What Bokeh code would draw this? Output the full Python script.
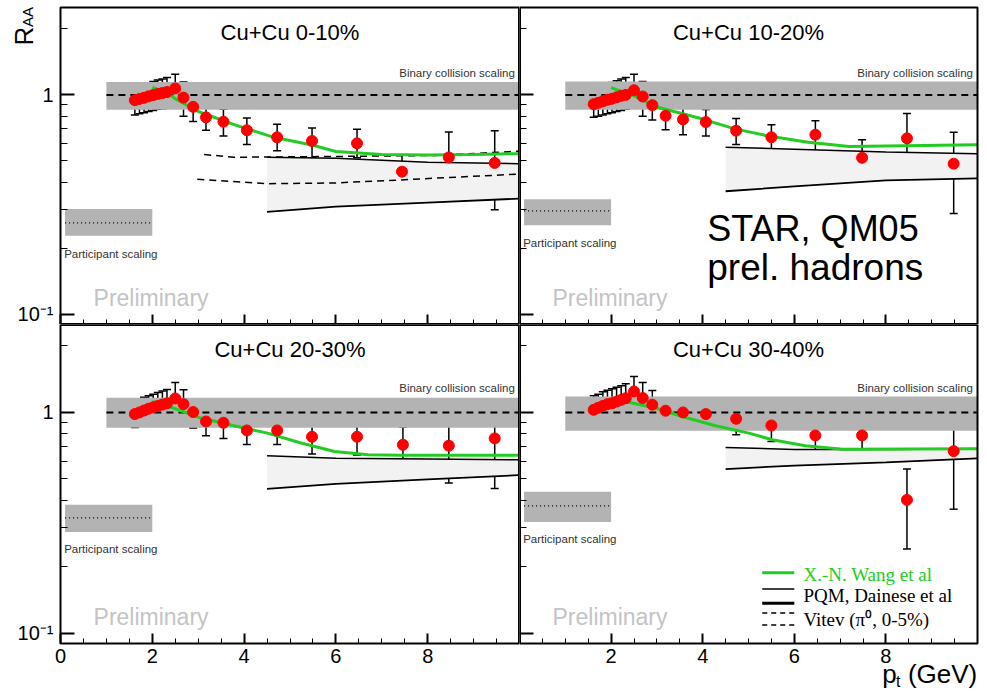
import math
from bokeh.plotting import figure
from bokeh.models import Range1d, FixedTicker, ColumnDataSource, Whisker, TeeHead, Label
from bokeh.layouts import gridplot
from bokeh.embed import file_html
from bokeh.resources import INLINE

# ---------------- data ----------------
titles = ["Cu+Cu 0-10%", "Cu+Cu 10-20%", "Cu+Cu 20-30%", "Cu+Cu 30-40%"]

pt_a = [1.62, 1.72, 1.82, 1.92, 2.02, 2.12, 2.22, 2.32, 2.50, 2.68, 2.89, 3.17, 3.55, 4.06, 4.72, 5.48, 6.46, 7.44, 8.46, 9.46]
raa_a = [0.946, 0.958, 0.97, 0.985, 0.998, 1.01, 1.02, 1.03, 1.07, 0.972, 0.882, 0.79, 0.755, 0.69, 0.641, 0.617, 0.602, 0.447, 0.519, 0.49]
lo_a = [0.81, 0.82, 0.83, 0.84, 0.85, 0.86, 0.865, 0.87, 0.873, 0.80, 0.757, 0.69, 0.65, 0.594, 0.556, 0.517, 0.517, 0.35, 0.36, 0.30]
hi_a = [1.08, 1.10, 1.11, 1.13, 1.15, 1.17, 1.18, 1.20, 1.24, 1.145, 1.03, 0.904, 0.861, 0.784, 0.734, 0.707, 0.697, 0.531, 0.678, 0.687]

pt_b = [1.62, 1.72, 1.82, 1.92, 2.02, 2.12, 2.22, 2.32, 2.50, 2.69, 2.90, 3.19, 3.57, 4.07, 4.73, 5.50, 6.46, 7.48, 8.46, 9.48]
raa_b = [0.907, 0.92, 0.935, 0.95, 0.96, 0.975, 0.99, 1.0, 1.05, 0.983, 0.898, 0.804, 0.773, 0.752, 0.687, 0.641, 0.659, 0.517, 0.634, 0.486]
lo_b = [0.79, 0.80, 0.81, 0.82, 0.83, 0.84, 0.85, 0.86, 0.87, 0.80, 0.768, 0.694, 0.659, 0.65, 0.594, 0.539, 0.556, 0.404, 0.44, 0.288]
hi_b = [1.06, 1.08, 1.10, 1.12, 1.14, 1.16, 1.18, 1.20, 1.24, 1.15, 1.04, 0.92, 0.882, 0.858, 0.781, 0.732, 0.763, 0.624, 0.823, 0.675]

pt_c = [1.62, 1.72, 1.82, 1.92, 2.02, 2.12, 2.22, 2.32, 2.50, 2.68, 2.89, 3.17, 3.55, 4.06, 4.72, 5.48, 6.46, 7.46, 8.46, 9.46]
raa_c = [0.983, 1.0, 1.02, 1.04, 1.055, 1.07, 1.085, 1.10, 1.157, 1.09, 1.004, 0.91, 0.898, 0.829, 0.829, 0.776, 0.776, 0.714, 0.707, 0.763]
lo_c = [0.855, 0.87, 0.88, 0.89, 0.90, 0.91, 0.92, 0.93, 0.949, 0.886, 0.85, 0.784, 0.763, 0.716, 0.716, 0.648, 0.641, 0.556, 0.479, 0.453]
hi_c = [1.13, 1.15, 1.17, 1.19, 1.21, 1.23, 1.25, 1.27, 1.367, 1.267, 1.154, 1.02, 1.02, 0.943, 0.943, 0.895, 0.914, 0.859, 0.927, 1.084]

pt_d = [1.62, 1.72, 1.82, 1.92, 2.02, 2.12, 2.22, 2.32, 2.50, 2.69, 2.90, 3.19, 3.57, 4.07, 4.73, 5.50, 6.46, 7.48, 8.46, 9.48]
raa_d = [1.028, 1.05, 1.07, 1.09, 1.10, 1.12, 1.14, 1.16, 1.245, 1.162, 1.084, 1.018, 1.0, 0.983, 0.936, 0.873, 0.787, 0.787, 0.402, 0.668]
lo_d = [0.889, 0.90, 0.91, 0.92, 0.93, 0.94, 0.95, 0.96, 1.053, 0.943, 0.91, 0.87, 0.855, 0.855, 0.792, 0.739, 0.636, 0.594, 0.241, 0.365]
hi_d = [1.19, 1.21, 1.24, 1.26, 1.28, 1.30, 1.32, 1.35, 1.456, 1.367, 1.258, 1.142, 1.142, 1.126, 1.065, 1.021, 0.933, 0.969, 0.554, 0.969]

# X.-N. Wang et al curves
wang_x_a = [2.0, 2.3, 2.5, 3.0, 3.8, 4.6, 5.5, 6.0, 7.0, 8.0, 9.0, 10.0]
wang_y_a = [1.08, 1.03, 0.96, 0.84, 0.73, 0.645, 0.59, 0.552, 0.535, 0.533, 0.535, 0.54]
wang_x_b = [2.0, 2.5, 3.0, 4.0, 4.7, 5.4, 6.3, 7.2, 8.0, 10.0]
wang_y_b = [1.08, 0.99, 0.88, 0.776, 0.70, 0.652, 0.608, 0.582, 0.585, 0.592]
wang_x_c = [2.0, 2.4, 3.06, 3.78, 4.51, 5.24, 5.97, 6.7, 7.4, 10.0]
wang_y_c = [1.12, 1.058, 0.943, 0.87, 0.806, 0.727, 0.666, 0.643, 0.64, 0.64]
wang_x_d = [2.0, 2.3, 2.97, 3.55, 4.28, 5.01, 5.52, 6.24, 7.05, 10.0]
wang_y_d = [1.16, 1.12, 1.047, 0.959, 0.87, 0.806, 0.752, 0.706, 0.682, 0.685]

# PQM, Dainese et al band
pqm_x = [4.5, 6.0, 8.0, 10.0]
pqm_hi_a = [0.52, 0.515, 0.494, 0.486]
pqm_lo_a = [0.293, 0.31, 0.323, 0.337]
pqm_hi_b = [0.578, 0.565, 0.55, 0.539]
pqm_lo_b = [0.364, 0.383, 0.408, 0.417]
pqm_hi_c = [0.637, 0.62, 0.615, 0.61]
pqm_lo_c = [0.451, 0.475, 0.498, 0.52]
pqm_hi_d = [0.694, 0.68, 0.68, 0.685]
pqm_lo_d = [0.554, 0.575, 0.594, 0.619]

# Vitev (pi0, 0-5%) curves, 0-10% panel only
vitev_hi_x = [3.13, 3.78, 5.97, 8.15, 10.0]
vitev_hi_y = [0.535, 0.52, 0.524, 0.53, 0.554]
vitev_lo_x = [2.98, 4.51, 5.97, 7.42, 10.0]
vitev_lo_y = [0.413, 0.394, 0.397, 0.41, 0.436]

# scaling bands (lower, upper) and participant scaling level
binary_lo = [0.855, 0.855, 0.853, 0.826]
binary_hi = [1.145, 1.15, 1.166, 1.18]
part_lo = [0.228, 0.255, 0.288, 0.319]
part_hi = [0.302, 0.335, 0.382, 0.437]
part_val = [0.261, 0.296, 0.333, 0.378]

x_major = [0, 2, 4, 6, 8]
x_minor = [k * 0.5 for k in range(1, 20)]
y_major = [0.1, 1]
y_minor = [0.2, 0.3, 0.4, 0.5, 0.6, 0.7, 0.8, 0.9, 2]

XMIN, XMAX = 0.0, 10.0
YMIN, YMAX = 0.09, 2.5

# ---------------- layout (pixels) ----------------
LEFT_W, RIGHT_W = 519, 468       # canvas widths
LEFT_PAD, RIGHT_PAD = 60, 10     # room for tick labels / right margin
TOP_H, BOT_H = 324, 370          # canvas heights
TOP_PAD, BOT_PAD = 7, 51

FONT = "Liberation Sans"
SERIF = "Liberation Serif"
LOGSPAN = math.log10(YMAX / YMIN)


def x_range_for(left):
    if left:
        ppu = (LEFT_W - LEFT_PAD) / (XMAX - XMIN)
        return Range1d(XMIN - LEFT_PAD / ppu, XMAX)
    ppu = (RIGHT_W - RIGHT_PAD) / (XMAX - XMIN)
    return Range1d(XMIN, XMAX + RIGHT_PAD / ppu)


def y_range_for(top):
    if top:
        dec = (TOP_H - TOP_PAD) / LOGSPAN
        return Range1d(YMIN, YMAX * 10 ** (TOP_PAD / dec))
    dec = (BOT_H - BOT_PAD) / LOGSPAN
    return Range1d(YMIN * 10 ** (-BOT_PAD / dec), YMAX)


def lbl(p, x, y, text, size, color="black", font=FONT, align="left",
        baseline="middle", angle=0):
    p.add_layout(Label(x=x, y=y, text=text, text_font=font,
                       text_font_size=f"{size}px", text_color=color,
                       text_align=align, text_baseline=baseline,
                       angle=angle))


def panel(i, pt, raa, lo, hi, wx, wy, plo, phi, left, top):
    p = figure(width=LEFT_W if left else RIGHT_W,
               height=TOP_H if top else BOT_H,
               x_range=x_range_for(left), y_range=y_range_for(top),
               y_axis_type="log", output_backend="svg", toolbar_location=None,
               min_border=0, min_border_left=0, min_border_right=0,
               min_border_top=0, min_border_bottom=0,
               background_fill_color="white", border_fill_color="white")
    p.grid.visible = False
    p.outline_line_color = None

    xt = [t for t in x_major if left or t != 0]
    p.xaxis.ticker = FixedTicker(ticks=xt, minor_ticks=x_minor)
    p.yaxis.ticker = FixedTicker(ticks=y_major, minor_ticks=y_minor)
    p.xaxis.fixed_location = YMIN
    p.yaxis.fixed_location = XMIN
    for ax in (p.xaxis[0], p.yaxis[0]):
        ax.axis_line_color = None
        ax.major_tick_out = 0
        ax.minor_tick_out = 0
        ax.major_tick_line_color = "black"
        ax.minor_tick_line_color = "black"
        ax.major_tick_line_width = 2
        ax.minor_tick_line_width = 1
        ax.major_label_text_font = FONT
        ax.major_label_text_font_size = "20px"
        ax.major_label_text_color = "black"
    p.xaxis.major_tick_in = 10
    p.xaxis.minor_tick_in = 5
    p.yaxis.major_tick_in = 14
    p.yaxis.minor_tick_in = 7
    p.yaxis.major_label_standoff = 7
    p.xaxis.major_label_standoff = 5
    if left:
        p.yaxis.major_label_overrides = {1: "1", 0.1: "10⁻¹"}
    else:
        p.yaxis.major_label_overrides = {1: "", 0.1: ""}
    if top:
        p.xaxis.major_label_overrides = {t: "" for t in xt}

    # binary collision scaling band
    p.quad(left=[1], right=[XMAX], bottom=[binary_lo[i]], top=[binary_hi[i]],
           fill_color="#b3b3b3", line_color=None)
    p.line([1, XMAX], [1, 1], line_color="black", line_width=2, line_dash="7 5")
    # participant scaling box
    p.quad(left=[0.1], right=[2.0], bottom=[part_lo[i]], top=[part_hi[i]],
           fill_color="#b3b3b3", line_color=None)
    p.line([0.1, 2.0], [part_val[i], part_val[i]], line_color="black",
           line_width=1.2, line_dash="1 3")

    # PQM band
    p.varea(x=pqm_x, y1=plo, y2=phi, fill_color="#f2f2f2")
    p.line(pqm_x, phi, line_color="black", line_width=1.5)
    p.line(pqm_x, plo, line_color="black", line_width=1.8)

    if i == 0:
        p.line(vitev_hi_x, vitev_hi_y, line_color="black", line_width=1.5, line_dash="7 5")
        p.line(vitev_lo_x, vitev_lo_y, line_color="black", line_width=1.5, line_dash="7 5")

    # Wang curve
    p.line(wx, wy, line_color="#22cc22", line_width=3)

    # data
    src = ColumnDataSource(dict(pt=pt, raa=raa, lo=lo, hi=hi))
    p.add_layout(Whisker(source=src, base="pt", lower="lo", upper="hi",
                         line_color="black", line_width=1.5,
                         upper_head=TeeHead(size=8, line_color="black", line_width=1.5),
                         lower_head=TeeHead(size=8, line_color="black", line_width=1.5)))
    p.scatter("pt", "raa", source=src, size=11, fill_color="#ff0000",
              line_color="#ff0000")

    # panel frame (shared edges drawn thicker since half falls outside the canvas)
    p.quad(left=[XMIN], right=[XMAX], bottom=[YMIN], top=[YMAX],
           fill_color=None, line_color="black", line_width=2)
    if left:
        p.line([XMAX, XMAX], [YMIN, YMAX], line_color="black", line_width=3)
    else:
        p.line([XMIN, XMIN], [YMIN, YMAX], line_color="black", line_width=3)
    if top:
        p.line([XMIN, XMAX], [YMIN, YMIN], line_color="black", line_width=3)
    else:
        p.line([XMIN, XMAX], [YMAX, YMAX], line_color="black", line_width=3)

    # texts
    lbl(p, 5.0, 1.93, titles[i], 22, align="center")
    ybin = 1.257 if top else 1.29
    lbl(p, 9.9, ybin, "Binary collision scaling", 11.5, color="#333333", align="right")
    ypart = [0.189, 0.212, 0.241, 0.268][i]
    lbl(p, 0.08, ypart, "Participant scaling", 11.5, color="#333333")
    lbl(p, 0.72, 0.119, "Preliminary", 23, color="#c4c4c4")
    return p


pa = panel(0, pt_a, raa_a, lo_a, hi_a, wang_x_a, wang_y_a, pqm_lo_a, pqm_hi_a, True, True)
pb = panel(1, pt_b, raa_b, lo_b, hi_b, wang_x_b, wang_y_b, pqm_lo_b, pqm_hi_b, False, True)
pc = panel(2, pt_c, raa_c, lo_c, hi_c, wang_x_c, wang_y_c, pqm_lo_c, pqm_hi_c, True, False)
pd = panel(3, pt_d, raa_d, lo_d, hi_d, wang_x_d, wang_y_d, pqm_lo_d, pqm_hi_d, False, False)

# y axis title R_AA (rotated)
lbl(pa, -0.80, 1.68, "R", 26, angle=math.pi / 2)
lbl(pa, -0.71, 2.04, "AA", 15, angle=math.pi / 2)

# x axis title p_t (GeV)
lbl(pd, 7.92, 0.0658, "p", 26, baseline="alphabetic")
lbl(pd, 8.22, 0.0605, "t", 16, baseline="alphabetic")
lbl(pd, 8.48, 0.0658, "(GeV)", 26, baseline="alphabetic")

# STAR label
lbl(pb, 4.1, 0.247, "STAR, QM05", 36)
lbl(pb, 4.1, 0.163, "prel. hadrons", 37)

# legend (bottom-right)
leg_x = [5.3, 6.0]
pd.line(leg_x, [0.188, 0.188], line_color="#22cc22", line_width=3)
pd.line(leg_x, [0.159, 0.159], line_color="black", line_width=1.5)
pd.line(leg_x, [0.137, 0.137], line_color="black", line_width=3)
pd.line(leg_x, [0.1236, 0.1236], line_color="black", line_width=1.5, line_dash="5 4")
pd.line(leg_x, [0.109, 0.109], line_color="black", line_width=1.5, line_dash="5 4")
lbl(pd, 6.2, 0.184, "X.-N. Wang et al", 19, color="#22cc22", font=SERIF)
lbl(pd, 6.2, 0.1477, "PQM, Dainese et al", 19, font=SERIF)
lbl(pd, 6.2, 0.116, "Vitev (π⁰, 0-5%)", 19, font=SERIF)

grid = gridplot([[pa, pb], [pc, pd]], toolbar_location=None)

open("out.html", "w").write(file_html(grid, INLINE))
